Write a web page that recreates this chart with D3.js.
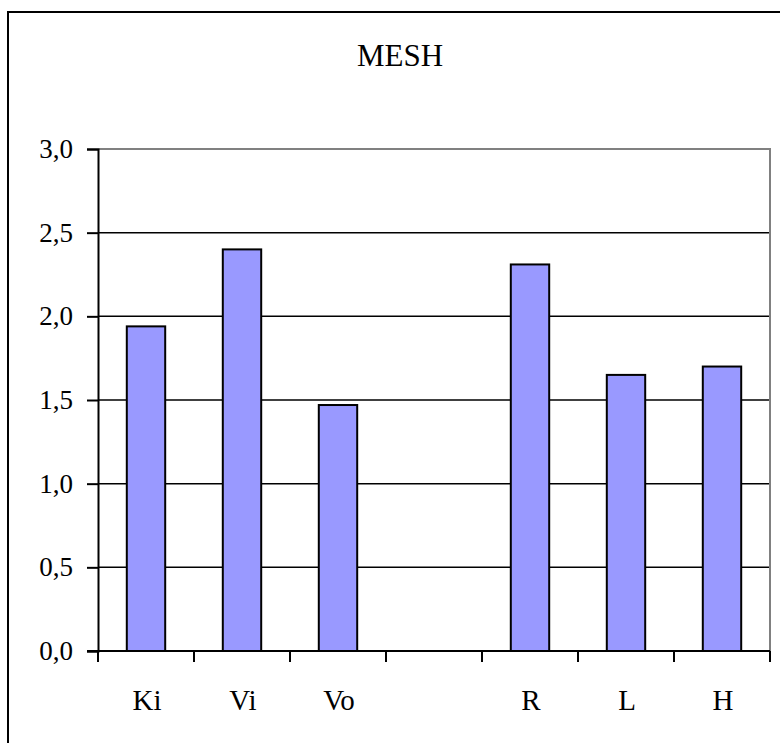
<!DOCTYPE html>
<html>
<head>
<meta charset="utf-8">
<script src="https://cdn.jsdelivr.net/npm/d3@7"></script>
<style>
  body { margin: 0; background: #fff; }
  svg text { font-family: 'Liberation Serif', 'Tinos', 'Times New Roman', 'DejaVu Serif', serif; fill: #000; }
</style>
</head>
<body>
<svg id="chart" width="780" height="743"></svg>
<script>
// data
let categories = ["Ki", "Vi", "Vo", "", "R", "L", "H"];
let values = [1.94, 2.40, 1.47, null, 2.31, 1.65, 1.70];
let yTicks = [0, 0.5, 1.0, 1.5, 2.0, 2.5, 3.0];
let title = "MESH";

let serif = "'Liberation Serif', 'Times New Roman', 'DejaVu Serif', serif";

let svg = d3.select("#chart");

let plotLeft = 98, plotRight = 770, plotTop = 149, plotBottom = 651;

// outer frame of the chart
svg.append("rect")
    .attr("x", 8).attr("y", 12)
    .attr("width", 800).attr("height", 760)
    .attr("fill", "none")
    .attr("stroke", "#000")
    .attr("stroke-width", 2);

svg.append("text")
    .attr("x", 400).attr("y", 66)
    .attr("text-anchor", "middle")
    .attr("font-family", serif)
    .attr("font-size", 31)
    .text(title);

let x = d3.scaleBand()
    .domain(categories)
    .range([plotLeft, plotRight])
    .padding(0);

let y = d3.scaleLinear()
    .domain([0, 3])
    .range([plotBottom, plotTop]);

// gridlines
svg.append("g")
    .selectAll("line")
    .data(yTicks.filter(d => d > 0 && d < 3))
    .enter().append("line")
    .attr("x1", plotLeft).attr("x2", plotRight)
    .attr("y1", d => y(d)).attr("y2", d => y(d))
    .attr("stroke", "#000")
    .attr("stroke-width", 1.5);

// plot area border (top and right, grey)
svg.append("path")
    .attr("d", "M" + plotLeft + "," + y(3) + "H" + plotRight + "V" + plotBottom)
    .attr("fill", "none")
    .attr("stroke", "#808080")
    .attr("stroke-width", 2);

// bars
let barW = x.bandwidth() * 0.4;
svg.append("g")
    .selectAll("rect")
    .data(categories.map((c, i) => ({ c: c, v: values[i] })).filter(d => d.v != null))
    .enter().append("rect")
    .attr("x", d => x(d.c) + (x.bandwidth() - barW) / 2)
    .attr("y", d => y(d.v))
    .attr("width", barW)
    .attr("height", d => y(0) - y(d.v))
    .attr("fill", "#9999ff")
    .attr("stroke", "#000")
    .attr("stroke-width", 2);

// y axis
let yAxis = svg.append("g")
    .attr("transform", "translate(" + plotLeft + ",0)")
    .call(d3.axisLeft(y)
        .tickValues(yTicks)
        .tickSize(11)
        .tickPadding(14)
        .tickFormat(d => d3.format(".1f")(d).replace(".", ",")));
yAxis.attr("font-family", serif).attr("font-size", 27);
yAxis.select(".domain").attr("stroke", "#000").attr("stroke-width", 2);
yAxis.selectAll(".tick line").attr("stroke", "#000").attr("stroke-width", 2);
yAxis.selectAll(".tick text")
    .attr("font-family", serif)
    .attr("font-size", 27)
    .attr("fill", "#000");

// x axis: line, ticks between categories, labels
svg.append("line")
    .attr("x1", plotLeft - 11).attr("x2", plotRight)
    .attr("y1", plotBottom).attr("y2", plotBottom)
    .attr("stroke", "#000")
    .attr("stroke-width", 2);

let bounds = categories.map(c => x(c)).concat([plotRight]);
svg.append("g")
    .selectAll("line")
    .data(bounds)
    .enter().append("line")
    .attr("x1", d => d).attr("x2", d => d)
    .attr("y1", plotBottom).attr("y2", plotBottom + 11)
    .attr("stroke", "#000")
    .attr("stroke-width", 2);

svg.append("g")
    .selectAll("text")
    .data(categories)
    .enter().append("text")
    .attr("x", d => x(d) + x.bandwidth() / 2 + 1)
    .attr("y", 710)
    .attr("text-anchor", "middle")
    .attr("font-family", serif)
    .attr("font-size", 29)
    .text(d => d);
</script>
</body>
</html>
